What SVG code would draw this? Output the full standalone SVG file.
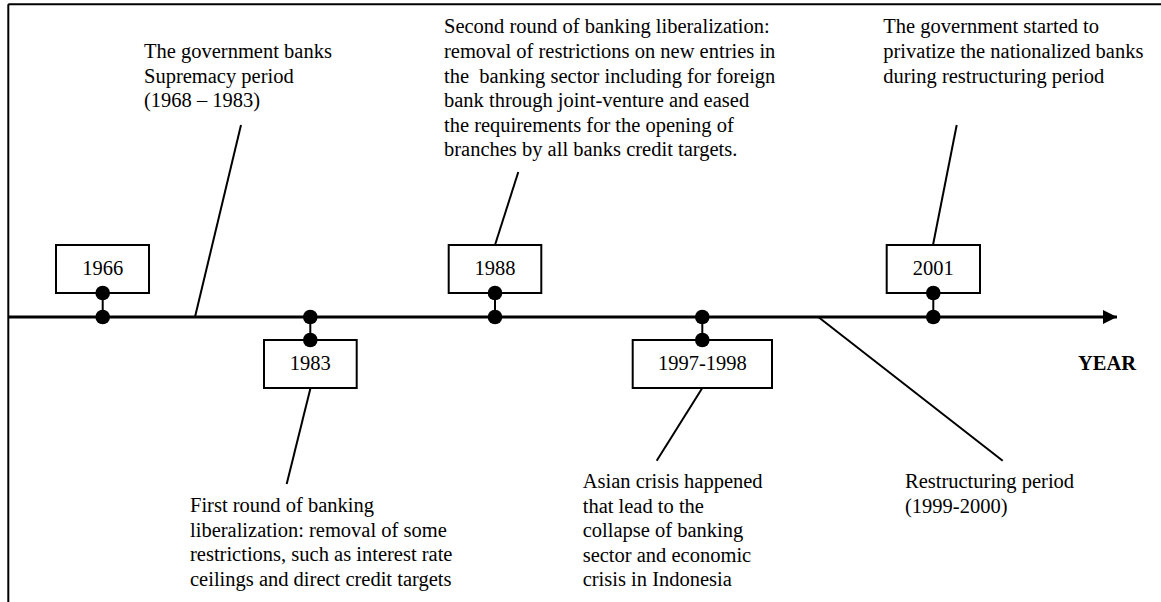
<svg xmlns="http://www.w3.org/2000/svg" width="1161" height="602" viewBox="0 0 1161 602">
<defs>
<style>
.t{font-family:"Liberation Serif","Times New Roman",serif;font-size:20.5px;fill:#000}
.y{font-family:"Liberation Serif","Times New Roman",serif;font-size:20.5px;fill:#000;text-anchor:middle}
.box{fill:#fff;stroke:#000;stroke-width:2}
.ln{stroke:#000;stroke-width:2;fill:none}
.dot{fill:#000}
</style>
<marker id="arr" viewBox="0 0 10 10" refX="10" refY="5" markerWidth="14" markerHeight="15" markerUnits="userSpaceOnUse" orient="auto">
<path d="M0,0 L10,5 L0,10 z" fill="#000"/>
</marker>
</defs>
<rect width="1161" height="602" fill="#fff"/>
<g id="frame">
<line class="ln" x1="8.3" y1="4.3" x2="1161" y2="4.3"/>
<line class="ln" x1="8.3" y1="4.3" x2="8.3" y2="602"/>
</g>
<g id="connectors">
<line x1="8" y1="317" x2="1117" y2="317" stroke="#000" stroke-width="3" marker-end="url(#arr)"/>
<line class="ln" x1="241" y1="125" x2="195" y2="317"/>
<line class="ln" x1="310.5" y1="388" x2="286.7" y2="484"/>
<line class="ln" x1="518.3" y1="172" x2="495" y2="245"/>
<line class="ln" x1="702.3" y1="388" x2="656.7" y2="460.7"/>
<line class="ln" x1="956.7" y1="125" x2="933" y2="245"/>
<line class="ln" x1="818.3" y1="317" x2="1002.7" y2="460.7"/>
</g>
<g id="n1966">
<rect class="box" x="56" y="245" width="93" height="48"/>
<text class="y" x="102.7" y="275">1966</text>
<line class="ln" x1="102.7" y1="293" x2="102.7" y2="317"/>
<circle class="dot" cx="102.7" cy="293" r="7.3"/>
<circle class="dot" cx="102.7" cy="317" r="7.3"/>
</g>
<g id="n1983">
<rect class="box" x="264" y="340" width="92.7" height="48"/>
<text class="y" x="310.3" y="370">1983</text>
<line class="ln" x1="310.3" y1="317" x2="310.3" y2="340"/>
<circle class="dot" cx="310.3" cy="317" r="7.3"/>
<circle class="dot" cx="310.3" cy="340" r="7.3"/>
</g>
<g id="n1988">
<rect class="box" x="448.7" y="245" width="92.6" height="48"/>
<text class="y" x="495" y="275">1988</text>
<line class="ln" x1="495" y1="293" x2="495" y2="317"/>
<circle class="dot" cx="495" cy="293" r="7.3"/>
<circle class="dot" cx="495" cy="317" r="7.3"/>
</g>
<g id="n1997">
<rect class="box" x="632.7" y="340" width="139.3" height="48"/>
<text class="y" x="702.3" y="370">1997-1998</text>
<line class="ln" x1="702.3" y1="317" x2="702.3" y2="340"/>
<circle class="dot" cx="702.3" cy="317" r="7.3"/>
<circle class="dot" cx="702.3" cy="340" r="7.3"/>
</g>
<g id="n2001">
<rect class="box" x="886.7" y="245" width="93.3" height="48"/>
<text class="y" x="933.3" y="275">2001</text>
<line class="ln" x1="933.3" y1="293" x2="933.3" y2="317"/>
<circle class="dot" cx="933.3" cy="293" r="7.3"/>
<circle class="dot" cx="933.3" cy="317" r="7.3"/>
</g>
<g id="lbl-supremacy">
<text class="t" x="144" y="58.3">The government banks</text>
<text class="t" x="144" y="82.7">Supremacy period</text>
<text class="t" x="144" y="107">(1968 – 1983)</text>
</g>
<g id="lbl-second">
<text class="t" x="444" y="33.3">Second round of banking liberalization:</text>
<text class="t" x="444" y="58">removal of restrictions on new entries in</text>
<text class="t" x="444" y="82.5" xml:space="preserve">the  banking sector including for foreign</text>
<text class="t" x="444" y="107">bank through joint-venture and eased</text>
<text class="t" x="444" y="131.5">the requirements for the opening of</text>
<text class="t" x="444" y="156">branches by all banks credit targets.</text>
</g>
<g id="lbl-privatize">
<text class="t" x="883.3" y="33.3">The government started to</text>
<text class="t" x="883.3" y="58">privatize the nationalized banks</text>
<text class="t" x="883.3" y="82.5">during restructuring period</text>
</g>
<g id="lbl-first">
<text class="t" x="190" y="511.7">First round of banking</text>
<text class="t" x="190" y="536.5">liberalization: removal of some</text>
<text class="t" x="190" y="561">restrictions, such as interest rate</text>
<text class="t" x="190" y="585.5">ceilings and direct credit targets</text>
</g>
<g id="lbl-asian">
<text class="t" x="582.7" y="488.3">Asian crisis happened</text>
<text class="t" x="582.7" y="513">that lead to the</text>
<text class="t" x="582.7" y="537.3">collapse of banking</text>
<text class="t" x="582.7" y="561.7">sector and economic</text>
<text class="t" x="582.7" y="586">crisis in Indonesia</text>
</g>
<g id="lbl-restructuring">
<text class="t" x="905" y="488.3">Restructuring period</text>
<text class="t" x="905" y="513">(1999-2000)</text>
</g>
<g id="lbl-year">
<text class="t" x="1078" y="370" font-weight="bold" font-size="18">YEAR</text>
</g>
</svg>
